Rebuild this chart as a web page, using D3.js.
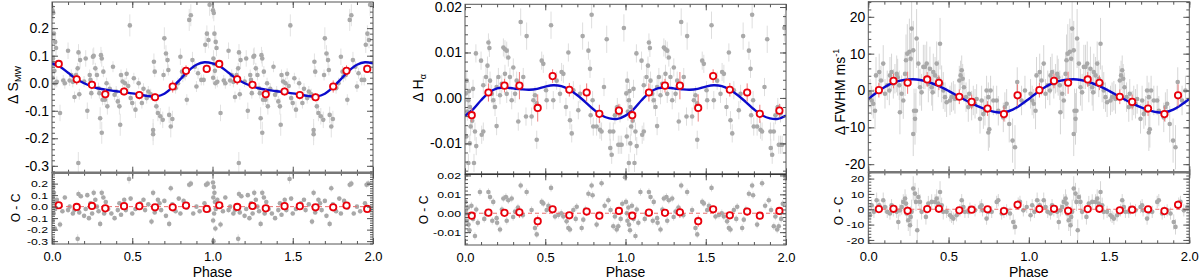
<!DOCTYPE html>
<html><head><meta charset="utf-8">
<script src="https://cdn.jsdelivr.net/npm/d3@7"></script>
<style>body{margin:0;background:#fff}svg{display:block}text{font-family:"Liberation Sans",Arial,Helvetica,sans-serif}</style>
</head><body><svg id="c" width="1200" height="280"></svg>
<script>
// ---------------- data ----------------
const phaseTicks = [0, 0.5, 1, 1.5, 2];
const phaseTickLabels = ["0.0", "0.5", "1.0", "1.5", "2.0"];
const phaseMinorTicks = [0,0.1,0.2,0.3,0.4,0.5,0.6,0.7,0.8,0.9,1,1.1,1.2,1.3,1.4,1.5,1.6,1.7,1.8,1.9,2];
const xTitle = "Phase";
const residTitle = "O - C";

const modelPhase = [0,0.05,0.1,0.15,0.2,0.25,0.3,0.35,0.4,0.45,0.5,0.55,0.6,0.65,0.7,0.75,0.8,0.85,0.9,0.95,1];

// Panel 1: S_MW
const smwTicks = [-0.3,-0.2,-0.1,0,0.1,0.2];
const smwModel = [0.072,0.060,0.038,0.016,0.000,-0.012,-0.020,-0.025,-0.029,-0.033,-0.037,-0.042,-0.047,-0.048,-0.038,-0.015,0.015,0.045,0.067,0.076,0.072];
const smwBinPhase = [0.042,0.154,0.249,0.332,0.449,0.544,0.642,0.752,0.835,0.964];
const smwBinValue = [0.070,0.014,-0.006,-0.040,-0.030,-0.043,-0.051,-0.012,0.045,0.052];
const smwBinErr = [0.012,0.02,0.015,0.018,0.015,0.015,0.015,0.022,0.02,0.015];
const smwBinResid = [0.012,-0.003,0.006,-0.015,0.004,0.004,-0.006,-0.006,0.01,-0.02];
const smwObs = [
[0.003,0.265,0.03],[0.008,0.255,0.03],[0.012,0.18,0.03],[0.02,0.15,0.03],[0.025,0.128,0.03],[0.006,0.09,0.03],[0.01,0.07,0.02],[0.015,0.045,0.02],[0.004,0.02,0.02],[0.018,0.0,0.02],[0.03,0.005,0.02],[0.05,-0.108,0.03],[0.07,0.01,0.02],[0.08,0.0,0.02],[0.1,0.118,0.03],[0.11,0.01,0.02],[0.12,0.03,0.02],[0.13,0.005,0.02],[0.14,-0.05,0.02],[0.15,0.03,0.02],[0.16,0.054,0.02],[0.165,0.112,0.03],[0.17,-0.04,0.02],[0.175,0.084,0.03],[0.2,0.006,0.02],[0.21,0.09,0.03],[0.22,-0.1,0.03],[0.235,0.03,0.02],[0.24,0.012,0.02],[0.245,-0.036,0.02],[0.255,0.096,0.03],[0.26,0.1,0.03],[0.27,0.054,0.02],[0.28,0.03,0.02],[0.29,-0.018,0.02],[0.295,-0.036,0.02],[0.3,-0.127,0.04],[0.305,0.102,0.03],[0.31,0.09,0.03],[0.315,-0.06,0.02],[0.32,0.042,0.02],[0.33,-0.06,0.02],[0.34,0.0,0.02],[0.345,-0.084,0.03],[0.36,-0.02,0.02],[0.38,0.06,0.02],[0.39,-0.042,0.02],[0.4,-0.03,0.02],[0.41,-0.066,0.02],[0.42,-0.084,0.03],[0.425,-0.151,0.04],[0.43,0.03,0.02],[0.44,0.006,0.02],[0.455,0.0,0.02],[0.465,0.034,0.02],[0.475,-0.01,0.02],[0.485,0.21,0.04],[0.49,-0.054,0.02],[0.5,-0.072,0.02],[0.51,0.018,0.02],[0.52,-0.096,0.03],[0.54,0.0,0.02],[0.56,-0.072,0.02],[0.57,-0.02,0.02],[0.59,-0.054,0.02],[0.6,-0.03,0.02],[0.615,-0.04,0.02],[0.63,-0.17,0.04],[0.635,0.078,0.03],[0.64,0.042,0.02],[0.65,-0.084,0.03],[0.66,-0.108,0.03],[0.675,-0.12,0.03],[0.69,-0.133,0.03],[0.695,0.03,0.02],[0.7,0.163,0.04],[0.71,0.108,0.03],[0.72,0.084,0.03],[0.725,0.048,0.02],[0.73,-0.115,0.03],[0.74,-0.157,0.04],[0.75,-0.13,0.03],[0.77,-0.018,0.02],[0.785,0.0,0.02],[0.8,0.096,0.03],[0.81,0.042,0.02],[0.815,0.024,0.02],[0.83,0.03,0.02],[0.84,-0.06,0.02],[0.855,0.23,0.04],[0.865,0.247,0.04],[0.875,0.084,0.03],[0.89,0.06,0.02],[0.9,-0.012,0.02],[0.91,0.036,0.02],[0.93,0.012,0.02],[0.945,0.012,0.02],[0.955,0.14,0.03],[0.965,0.18,0.03],[0.975,0.157,0.03],[0.982,0.285,0.04],[0.31,-0.18,0.04],[0.164,-0.29,0.04],[0.63,-0.185,0.04]
];
const smwResid = [
[0.003,0.21,0.03],[0.008,0.17,0.03],[0.012,0.12,0.03],[0.005,0.08,0.02],[0.015,0.04,0.02],[0.02,-0.02,0.02],[0.01,-0.06,0.02],[0.004,-0.12,0.03],[0.018,-0.19,0.03],[0.006,-0.3,0.04],[0.03,0.06,0.02],[0.05,-0.156,0.03],[0.065,-0.04,0.02],[0.08,0.08,0.02],[0.1,-0.03,0.02],[0.11,0.0,0.02],[0.13,-0.06,0.02],[0.14,-0.03,0.02],[0.16,-0.28,0.04],[0.165,0.11,0.03],[0.17,-0.05,0.02],[0.18,0.09,0.02],[0.2,-0.08,0.02],[0.21,-0.02,0.02],[0.22,0.1,0.02],[0.23,-0.1,0.02],[0.24,0.03,0.02],[0.25,-0.06,0.02],[0.26,0.12,0.03],[0.27,0.06,0.02],[0.28,0.0,0.02],[0.29,-0.04,0.02],[0.3,-0.15,0.03],[0.31,0.12,0.03],[0.32,0.08,0.02],[0.325,-0.06,0.02],[0.335,0.04,0.02],[0.35,-0.02,0.02],[0.37,-0.06,0.02],[0.39,-0.1,0.02],[0.41,-0.03,0.02],[0.42,0.03,0.02],[0.43,-0.07,0.02],[0.45,0.06,0.02],[0.46,-0.03,0.02],[0.48,0.24,0.04],[0.49,0.07,0.02],[0.5,-0.06,0.02],[0.52,-0.02,0.02],[0.55,0.03,0.02],[0.57,0.06,0.02],[0.58,-0.03,0.02],[0.6,0.02,0.02],[0.62,-0.13,0.03],[0.63,0.12,0.03],[0.64,-0.05,0.02],[0.66,0.06,0.02],[0.67,0.03,0.02],[0.68,-0.03,0.02],[0.7,0.05,0.02],[0.71,-0.08,0.02],[0.73,-0.15,0.03],[0.74,0.16,0.03],[0.75,0.02,0.02],[0.77,-0.04,0.02],[0.79,0.07,0.02],[0.8,-0.06,0.02],[0.82,0.05,0.02],[0.84,-0.01,0.02],[0.855,0.19,0.03],[0.865,0.2,0.03],[0.88,-0.06,0.02],[0.9,0.0,0.02],[0.92,-0.04,0.02],[0.95,0.03,0.02],[0.96,0.19,0.03],[0.97,0.2,0.03],[0.98,-0.03,0.02]
];

// Panel 2: H-alpha
const haTicks = [-0.01,0,0.01,0.02];
const haModel = [-0.0039,-0.0025,-0.0005,0.0012,0.0021,0.0023,0.0021,0.0019,0.0018,0.0020,0.0025,0.0028,0.0026,0.0018,0.0006,-0.0009,-0.0025,-0.0038,-0.0045,-0.0046,-0.0039];
const haBinPhase = [0.042,0.146,0.246,0.339,0.453,0.546,0.650,0.758,0.837,0.959];
const haBinValue = [-0.0038,0.0012,0.0027,0.0027,-0.0022,0.0048,0.0018,0.0012,-0.0035,-0.0028];
const haBinErr = [0.0015,0.002,0.0015,0.003,0.003,0.0015,0.0015,0.002,0.002,0.0015];
const haBinResid = [-0.0013,0.0003,0.0002,0.0005,-0.0042,0.0021,-0.0011,0.0009,-0.0013,0.0012];
const haObs = [
[0.011,0.0038,0.002],[0.021,-0.0005,0.002],[0.031,-0.002,0.002],[0.042,-0.0041,0.002],[0.035,-0.0063,0.002],[0.005,0.001,0.002],[0.015,-0.003,0.002],[0.025,0.0015,0.002],[0.045,-0.005,0.002],[0.05,0.002,0.002],[0.008,-0.0085,0.002],[0.03,-0.01,0.002],[0.068,0.0098,0.002],[0.1,0.0082,0.002],[0.114,0.0028,0.002],[0.131,0.0046,0.002],[0.146,0.0122,0.002],[0.152,0.011,0.002],[0.14,0.0071,0.002],[0.156,0.0038,0.002],[0.166,0.0009,0.002],[0.176,-0.0005,0.002],[0.187,-0.002,0.002],[0.197,0.0024,0.002],[0.208,0.0046,0.002],[0.197,-0.0062,0.002],[0.218,0.0006,0.002],[0.229,0.0031,0.002],[0.239,0.0111,0.002],[0.249,0.0107,0.002],[0.26,0.0104,0.002],[0.27,0.0089,0.002],[0.249,0.0053,0.002],[0.26,0.0009,0.002],[0.28,0.0046,0.002],[0.291,-0.0005,0.002],[0.301,0.0067,0.002],[0.312,0.0009,0.002],[0.322,0.0038,0.002],[0.332,-0.0052,0.002],[0.347,0.0167,0.003],[0.363,0.0046,0.002],[0.38,-0.0041,0.002],[0.384,0.0136,0.003],[0.415,-0.0041,0.002],[0.426,-0.0005,0.002],[0.436,0.0006,0.002],[0.447,-0.0012,0.002],[0.478,0.0082,0.002],[0.488,0.0075,0.002],[0.505,0.0017,0.002],[0.509,-0.0005,0.002],[0.536,0.016,0.003],[0.55,-0.0005,0.002],[0.571,0.0038,0.002],[0.592,0.0009,0.002],[0.602,0.0057,0.002],[0.613,0.0053,0.002],[0.629,-0.002,0.002],[0.644,0.01,0.002],[0.654,-0.0049,0.002],[0.665,-0.0078,0.002],[0.675,0.0017,0.002],[0.706,-0.0027,0.002],[0.717,0.0009,0.002],[0.733,0.0136,0.003],[0.769,0.0104,0.002],[0.779,0.0064,0.002],[0.789,0.0183,0.003],[0.783,-0.0038,0.002],[0.795,-0.0005,0.002],[0.799,-0.0063,0.002],[0.82,-0.0063,0.002],[0.841,-0.007,0.002],[0.851,-0.0074,0.002],[0.866,0.0024,0.002],[0.883,0.0129,0.003],[0.924,-0.0074,0.002],[0.934,-0.0038,0.002],[0.949,-0.002,0.002],[0.966,-0.0034,0.002],[0.99,0.0154,0.003],[0.062,-0.0074,0.002],[0.104,-0.0081,0.002],[0.114,-0.0074,0.002],[0.021,-0.0143,0.002],[0.056,-0.0143,0.002],[0.447,-0.0092,0.002],[0.903,-0.0074,0.002],[0.905,-0.011,0.002],[0.914,-0.0125,0.002],[0.955,-0.0103,0.002],[0.966,-0.0103,0.002],[0.976,-0.0103,0.002],[0.07,-0.0106,0.002]
];
const haResid = [
[0.003,0.006,0.002],[0.008,0.0,0.002],[0.012,-0.004,0.002],[0.018,0.003,0.002],[0.022,-0.006,0.002],[0.028,-0.009,0.002],[0.04,0.004,0.002],[0.05,-0.003,0.002],[0.07,0.002,0.002],[0.08,-0.005,0.002],[0.062,-0.012,0.002],[0.093,0.0112,0.002],[0.12,-0.003,0.002],[0.13,0.0,0.002],[0.146,0.0112,0.002],[0.156,0.0086,0.002],[0.17,-0.004,0.002],[0.176,0.006,0.002],[0.197,-0.0026,0.002],[0.2,-0.005,0.002],[0.218,-0.0086,0.002],[0.23,0.002,0.002],[0.239,0.0078,0.002],[0.255,0.0086,0.002],[0.26,-0.004,0.002],[0.27,0.0069,0.002],[0.291,0.0078,0.002],[0.3,-0.002,0.002],[0.312,0.0009,0.002],[0.33,0.003,0.002],[0.347,0.0147,0.002],[0.36,-0.001,0.002],[0.384,0.0112,0.002],[0.415,0.0017,0.002],[0.436,-0.0078,0.002],[0.447,-0.0112,0.002],[0.46,-0.004,0.002],[0.478,0.006,0.002],[0.488,0.0052,0.002],[0.509,0.0017,0.002],[0.52,0.004,0.002],[0.536,0.0134,0.002],[0.561,-0.0017,0.002],[0.582,-0.0009,0.002],[0.6,0.0,0.002],[0.613,-0.0017,0.002],[0.633,-0.0043,0.002],[0.644,-0.0078,0.002],[0.654,-0.0086,0.002],[0.675,0.0017,0.002],[0.69,-0.003,0.002],[0.696,0.0034,0.002],[0.727,-0.0078,0.002],[0.737,-0.0034,0.002],[0.75,0.002,0.002],[0.769,0.0103,0.002],[0.789,0.0147,0.002],[0.795,0.0095,0.002],[0.82,-0.006,0.002],[0.851,0.0159,0.002],[0.87,0.004,0.002],[0.893,0.0069,0.002],[0.907,0.0017,0.002],[0.924,-0.0069,0.002],[0.934,-0.0017,0.002],[0.945,-0.0086,0.002],[0.955,-0.0069,0.002],[0.97,-0.003,0.002],[0.98,0.005,0.002],[0.997,0.019,0.002]
];

// Panel 3: FWHM
const fwhmTicks = [-20,-10,0,10,20];
const fwhmModel = [-2.3,-0.6,0.9,2.0,2.7,3.0,3.0,2.6,1.9,1.0,-0.1,-1.3,-2.5,-3.6,-4.6,-5.4,-5.9,-5.9,-5.2,-3.9,-2.3];
const fwhmBinPhase = [0.066,0.157,0.245,0.367,0.440,0.567,0.644,0.743,0.845,0.930];
const fwhmBinValue = [0.1,2.6,2.1,3.0,2.1,-1.7,-3.1,-4.9,-6.4,-1.3];
const fwhmBinErr = [2,2,3,2,2,2,2,2,2,3];
const fwhmBinResid = [0.1,0.3,-1.0,0.1,0.3,-0.7,-0.3,0.0,-1.2,2.9];
const fwhmObs = [
[0.011,-0.9,4],[0.021,-2.7,4],[0.031,-3.6,4],[0.042,-5.5,5],[0.048,4.1,5],[0.068,5.0,5],[0.079,2.7,4],[0.093,7.3,5],[0.104,-0.9,4],[0.118,1.4,4],[0.131,0.0,4],[0.135,4.1,5],[0.145,5.0,5],[0.156,1.8,4],[0.166,3.2,4],[0.177,4.5,5],[0.183,3.6,5],[0.193,1.4,4],[0.197,-5.9,6],[0.208,-0.9,5],[0.218,-2.7,5],[0.229,4.5,6],[0.235,8.2,7],[0.243,10.0,8],[0.256,10.5,9],[0.264,8.6,7],[0.27,16.8,9],[0.28,10.9,8],[0.285,-5.5,6],[0.291,-7.7,7],[0.297,-5.5,6],[0.301,14.1,8],[0.312,7.3,6],[0.322,0.9,5],[0.332,-0.5,5],[0.343,6.4,6],[0.353,6.4,6],[0.364,7.3,6],[0.374,1.8,5],[0.384,5.9,6],[0.395,0.9,5],[0.401,-0.5,5],[0.405,5.0,5],[0.416,4.1,5],[0.426,7.3,6],[0.436,3.2,5],[0.447,12.7,7],[0.457,1.8,5],[0.467,0.0,5],[0.478,-1.8,4],[0.488,-3.2,4],[0.509,-2.7,4],[0.519,-1.8,4],[0.53,-1.4,4],[0.54,-2.3,4],[0.567,2.7,4],[0.575,4.1,4],[0.582,5.5,4],[0.588,3.2,4],[0.596,0.9,4],[0.609,-1.8,4],[0.623,-4.5,4],[0.629,-0.9,4],[0.644,-4.1,4],[0.654,-2.7,4],[0.665,-3.6,4],[0.675,-2.3,4],[0.696,-7.7,4],[0.706,-2.7,4],[0.717,-6.4,4],[0.727,-5.5,4],[0.737,0.0,4],[0.748,-1.8,4],[0.754,-10.5,5],[0.762,0.0,4],[0.779,-2.7,4],[0.8,-2.7,4],[0.81,-5.5,4],[0.841,-7.3,4],[0.851,-4.5,4],[0.862,-3.6,4],[0.878,-9.1,5],[0.899,-13.6,6],[0.914,-15.4,6],[0.924,-1.4,4],[0.928,2.3,4],[0.955,-2.7,4],[0.976,0.0,4],[0.28,-11.8,6],[0.748,-11.4,5]
];
const fwhmResid = [
[0.011,-3.9,4],[0.021,2.6,4],[0.035,-1.7,4],[0.052,5.9,5],[0.068,2.6,4],[0.093,5.9,5],[0.104,1.5,4],[0.118,-1.7,4],[0.135,-2.8,4],[0.145,2.6,4],[0.156,-0.7,4],[0.177,-1.7,4],[0.187,-8.3,5],[0.197,-0.7,4],[0.208,1.5,5],[0.218,4.8,5],[0.229,7.0,6],[0.235,3.7,6],[0.239,-2.8,6],[0.249,-7.2,7],[0.26,-10.4,7],[0.264,-5.0,7],[0.27,-1.7,8],[0.28,13.5,8],[0.291,10.2,7],[0.297,4.8,6],[0.305,-13.7,7],[0.312,8.0,6],[0.322,4.8,5],[0.332,-1.7,5],[0.359,-5.0,5],[0.374,3.7,5],[0.395,4.8,5],[0.416,4.8,5],[0.426,7.0,6],[0.436,3.7,5],[0.447,11.3,7],[0.457,2.6,5],[0.467,-1.7,5],[0.488,-1.7,4],[0.509,-3.9,4],[0.519,-5.0,4],[0.53,-6.1,4],[0.55,-3.9,4],[0.571,-0.7,4],[0.582,5.9,4],[0.592,1.5,4],[0.602,-1.7,4],[0.623,-1.7,4],[0.633,0.4,4],[0.665,-0.7,4],[0.696,1.5,4],[0.706,2.6,4],[0.712,-0.7,4],[0.737,-6.1,4],[0.748,-1.7,4],[0.769,-1.7,4],[0.8,4.8,4],[0.81,5.9,4],[0.831,-2.8,4],[0.845,-1.7,4],[0.862,-0.7,4],[0.883,-2.8,4],[0.903,-8.3,5],[0.914,-11.5,5],[0.934,3.7,4],[0.945,4.8,4],[0.966,-0.7,4],[0.987,1.5,4]
];

// ---------------- drawing ----------------
const svg = d3.select("#c");
const FONT = '"Liberation Sans",Arial,Helvetica,sans-serif';
const frameColor = "#555";

const panels = [
  { id:"p1", box:{x0:52,x1:373,top:2,mid:172.7,bot:244}, domain:[-0.325,0.295], ticks:smwTicks, minorStep:0.02, dec:1,
    model:smwModel, obs:smwObs, resid:smwResid, binP:smwBinPhase, binV:smwBinValue, binE:smwBinErr, binR:smwBinResid,
    errColor:"#e2e2e2", sep:{c:"#777",w:2.5},
    ylab:{x:17.5,y:85,main:"Δ S",sub:"MW",sup:null}, rlab:{x:20,y:208} },
  { id:"p2", box:{x0:465,x1:786,top:4.3,mid:174.3,bot:245}, domain:[-0.0168,0.0206], ticks:haTicks, minorStep:0.002, dec:2,
    model:haModel, obs:haObs, resid:haResid, binP:haBinPhase, binV:haBinValue, binE:haBinErr, binR:haBinResid,
    errColor:"#dedede", sep:{c:"#333",w:1.5},
    ylab:{x:422.5,y:88,main:"Δ H",sub:"α",sup:null}, rlab:{x:428,y:210} },
  { id:"p3", box:{x0:868.3,x1:1189.3,top:1.7,mid:172.3,bot:243.3}, domain:[-22.2,24.1], ticks:fwhmTicks, minorStep:2, dec:0,
    model:fwhmModel, obs:fwhmObs, resid:fwhmResid, binP:fwhmBinPhase, binV:fwhmBinValue, binE:fwhmBinErr, binR:fwhmBinResid,
    errColor:"#d6d6d6", sep:{c:"#777",w:2.5},
    ylab:{x:845,y:92,main:"Δ FWHM ms",sub:null,sup:"-1"}, rlab:{x:843,y:211} }
];

function fmt(dec){ return v => { const r = Math.abs(v) < 1e-12 ? 0 : v; return r.toFixed(dec); }; }
const dup = arr => arr.flatMap(d => [d, [d[0]+1, d[1], d[2]]]);

panels.forEach(P => {
  const b = P.box;
  const g = svg.append("g");
  const x = d3.scaleLinear().domain([0,2]).range([b.x0,b.x1]);
  const yU = d3.scaleLinear().domain(P.domain).range([b.mid,b.top]);
  const yL = d3.scaleLinear().domain(P.domain).range([b.bot,b.mid]);
  const minor = d3.range(Math.ceil(P.domain[0]/P.minorStep), Math.floor(P.domain[1]/P.minorStep)+1).map(i => +(i*P.minorStep).toFixed(6));

  const defs = svg.append("defs");
  defs.append("clipPath").attr("id",P.id+"u").append("rect").attr("x",b.x0).attr("y",b.top).attr("width",b.x1-b.x0).attr("height",b.mid-b.top);
  defs.append("clipPath").attr("id",P.id+"l").append("rect").attr("x",b.x0).attr("y",b.mid).attr("width",b.x1-b.x0).attr("height",b.bot-b.mid);

  function section(y, clip, pts, binVals, isUpper){
    const s = g.append("g").attr("clip-path",`url(#${clip})`);
    const data = dup(pts);
    s.selectAll("line.e").data(data).join("line").attr("class","e")
      .attr("x1",d=>x(d[0])).attr("x2",d=>x(d[0])).attr("y1",d=>y(d[1]-d[2])).attr("y2",d=>y(d[1]+d[2]))
      .attr("stroke",P.errColor).attr("stroke-width",1);
    s.selectAll("circle.o").data(data).join("circle").attr("class","o")
      .attr("cx",d=>x(d[0])).attr("cy",d=>y(d[1])).attr("r",2.3).attr("fill","#a9a9a9");
    if (isUpper) {
      const mp = modelPhase.concat(modelPhase.slice(1).map(p=>p+1));
      const mv = P.model.concat(P.model.slice(1));
      const line = d3.line().x((d,i)=>x(mp[i])).y(d=>y(d)).curve(d3.curveCatmullRom.alpha(0.5));
      s.append("path").attr("d",line(mv)).attr("fill","none").attr("stroke","#0b0bcc").attr("stroke-width",2.4);
    } else {
      s.append("line").attr("x1",b.x0).attr("x2",b.x1).attr("y1",y(0)).attr("y2",y(0))
        .attr("stroke","#e87070").attr("stroke-width",1).attr("stroke-dasharray","4,3");
    }
    const bins = P.binP.map((p,i)=>[p, binVals[i], P.binE[i]]);
    const bd = dup(bins);
    s.selectAll("line.be").data(bd).join("line").attr("class","be")
      .attr("x1",d=>x(d[0])).attr("x2",d=>x(d[0])).attr("y1",d=>y(d[1]-d[2])).attr("y2",d=>y(d[1]+d[2]))
      .attr("stroke","#f07a7a").attr("stroke-width",1);
    s.selectAll("circle.b").data(bd).join("circle").attr("class","b")
      .attr("cx",d=>x(d[0])).attr("cy",d=>y(d[1])).attr("r",3.2)
      .attr("fill","#fff").attr("stroke","#e8000b").attr("stroke-width",1.8);
  }
  section(yU, P.id+"u", P.obs, P.binV, true);
  section(yL, P.id+"l", P.resid, P.binR, false);

  function axes(y, yTop, yBot, isLower){
    const a = g.append("g").attr("color",frameColor);
    const clean = sel => { sel.select(".domain").remove(); };
    a.append("g").attr("transform",`translate(${b.x0},0)`)
      .call(d3.axisLeft(y).tickValues(minor).tickSize(-3).tickSizeOuter(0).tickFormat("")).call(clean);
    const la = a.append("g").attr("transform",`translate(${b.x0},0)`)
      .call(d3.axisLeft(y).tickValues(P.ticks).tickSize(-6).tickSizeOuter(0).tickPadding(isLower?4:3).tickFormat(fmt(P.dec))).call(clean);
    la.selectAll("text").attr("font-size",isLower?9.8:14).attr("font-family",FONT).attr("fill","#000");
    if (isLower) {
      la.selectAll("text").each(function(){
        const w = this.getComputedTextLength();
        d3.select(this).attr("textLength", w*1.25).attr("lengthAdjust","spacingAndGlyphs");
      });
    }
    a.append("g").attr("transform",`translate(${b.x1},0)`)
      .call(d3.axisRight(y).tickValues(minor).tickSize(-3).tickSizeOuter(0).tickFormat("")).call(clean);
    a.append("g").attr("transform",`translate(${b.x1},0)`)
      .call(d3.axisRight(y).tickValues(P.ticks).tickSize(-6).tickSizeOuter(0).tickFormat("")).call(clean);
    a.append("g").attr("transform",`translate(0,${yTop})`)
      .call(d3.axisTop(x).tickValues(phaseMinorTicks).tickSize(-3).tickSizeOuter(0).tickFormat("")).call(clean);
    a.append("g").attr("transform",`translate(0,${yTop})`)
      .call(d3.axisTop(x).tickValues(phaseTicks).tickSize(-6).tickSizeOuter(0).tickFormat("")).call(clean);
    a.append("g").attr("transform",`translate(0,${yBot})`)
      .call(d3.axisBottom(x).tickValues(phaseMinorTicks).tickSize(-3).tickSizeOuter(0).tickFormat("")).call(clean);
    const ba = a.append("g").attr("transform",`translate(0,${yBot})`)
      .call(d3.axisBottom(x).tickValues(phaseTicks).tickSize(-6).tickSizeOuter(0).tickPadding(8)
        .tickFormat(isLower ? ((d,i)=>phaseTickLabels[i]) : "")).call(clean);
    ba.selectAll("text").attr("font-size",13).attr("font-family",FONT).attr("fill","#000");
    a.selectAll("line").attr("stroke-width",1);
    a.append("rect").attr("x",b.x0).attr("y",yTop).attr("width",b.x1-b.x0).attr("height",yBot-yTop)
      .attr("fill","none").attr("stroke",frameColor).attr("stroke-width",1);
  }
  axes(yU, b.top, b.mid, false);
  axes(yL, b.mid, b.bot, true);
  g.append("line").attr("x1",b.x0).attr("x2",b.x1).attr("y1",b.mid).attr("y2",b.mid)
    .attr("stroke",P.sep.c).attr("stroke-width",P.sep.w);

  // y titles
  const t = g.append("text").attr("transform",`translate(${P.ylab.x},${P.ylab.y}) rotate(-90)`)
    .attr("text-anchor","middle").attr("font-size",14).attr("font-family",FONT).attr("fill","#000");
  t.append("tspan").text(P.ylab.main);
  if (P.ylab.sub) t.append("tspan").attr("dy",3).attr("font-size",9).text(P.ylab.sub);
  if (P.ylab.sup) t.append("tspan").attr("dy",-6).attr("font-size",9).text(P.ylab.sup);
  g.append("text").attr("transform",`translate(${P.rlab.x},${P.rlab.y}) rotate(-90)`)
    .attr("text-anchor","middle").attr("font-size",12).attr("font-family",FONT).attr("fill","#000").text(residTitle);
  g.append("text").attr("x",(b.x0+b.x1)/2).attr("y",277).attr("text-anchor","middle")
    .attr("font-size",14).attr("font-family",FONT).attr("fill","#000").text(xTitle);
});
</script></body></html>
